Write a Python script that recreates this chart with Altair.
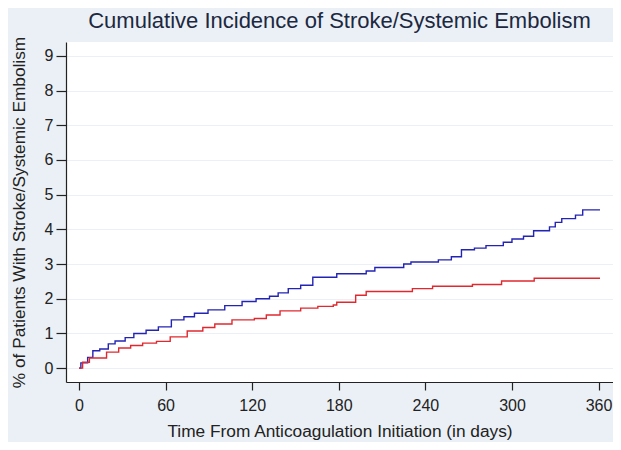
import altair as alt
import pandas as pd

# Step-curve (days, cumulative %)
blue_days = [0, 1.3, 6, 9.6, 14.4, 20.3, 25, 32, 38, 46.5, 55, 64, 72.7, 80, 89.4, 101, 113,
             122.7, 132, 138, 145, 153.6, 162, 178.6, 199, 205, 225, 230, 249, 258, 265, 274,
             282, 294, 300, 308, 315, 326, 330, 334.5, 344, 349, 361]
blue_vals = [0, 0.15, 0.31, 0.5, 0.55, 0.7, 0.78, 0.88, 1.0, 1.09, 1.19, 1.39, 1.48, 1.58, 1.68,
             1.8, 1.92, 2.0, 2.07, 2.17, 2.29, 2.39, 2.62, 2.72, 2.8, 2.9, 3.0, 3.06, 3.12, 3.21,
             3.41, 3.46, 3.53, 3.63, 3.72, 3.8, 3.96, 4.07, 4.2, 4.31, 4.41, 4.56, 4.56]

red_days = [0, 2.5, 7.2, 19.1, 27.5, 35.8, 44.1, 53.7, 63.2, 75, 85.8, 94.1, 106, 121.5, 129.8,
            139.3, 153.6, 165.5, 176.2, 178.6, 191.7, 199, 231, 245, 272.6, 292.8, 315.4, 361]
red_vals = [0, 0.17, 0.29, 0.46, 0.58, 0.65, 0.72, 0.77, 0.9, 1.07, 1.17, 1.27, 1.39, 1.43, 1.53,
            1.65, 1.73, 1.78, 1.82, 1.9, 2.1, 2.21, 2.29, 2.36, 2.41, 2.51, 2.59, 2.59]

series_names = ["Blue group", "Red group"]
series_colors = ["#2424B4", "#E0282E"]

x_ticks = [0, 60, 120, 180, 240, 300, 360]
y_ticks = [0, 1, 2, 3, 4, 5, 6, 7, 8, 9]

title_text = "Cumulative Incidence of Stroke/Systemic Embolism"
x_title = "Time From Anticoagulation Initiation (in days)"
y_title = "% of Patients With Stroke/Systemic Embolism"

df = pd.concat([
    pd.DataFrame({"day": blue_days, "pct": blue_vals, "series": series_names[0]}),
    pd.DataFrame({"day": red_days, "pct": red_vals, "series": series_names[1]}),
])

FONT = "Liberation Sans"
BG = "#EAF0F5"

chart = alt.Chart(df).mark_line(interpolate="step-after", strokeWidth=1.4).encode(
    x=alt.X("day:Q",
            scale=alt.Scale(domain=[-9, 370], nice=False, zero=False),
            axis=alt.Axis(values=x_ticks, title=x_title, grid=False,
                          tickSize=8, labelPadding=7, titlePadding=9)),
    y=alt.Y("pct:Q",
            scale=alt.Scale(domain=[-0.4, 9.4], nice=False, zero=False),
            axis=alt.Axis(values=y_ticks, title=y_title, grid=True,
                          tickSize=10, labelPadding=3, titlePadding=16)),
    color=alt.Color("series:N",
                    scale=alt.Scale(domain=series_names, range=series_colors),
                    legend=None),
    detail="series:N",
).properties(
    width=547,
    height=340,
    title=alt.TitleParams(title_text, anchor="middle", frame="group", fontSize=22,
                          font=FONT, fontWeight="normal", color="#1C2840", offset=3),
    background=BG,
    padding={"left": 58, "top": 34, "right": 0, "bottom": 60},
    autosize=alt.AutoSizeParams(type="none"),
).configure_view(
    fill="white", stroke=None
).configure_axis(
    labelFont=FONT, titleFont=FONT, labelFontSize=16, titleFontSize=17.3,
    labelColor="#222222", titleColor="#222222", titleFontWeight="normal",
    domainColor="#222222", tickColor="#222222", domainWidth=1.2, tickWidth=1.2,
    gridColor=BG, gridWidth=1.2,
)

chart.save("out.html", embed_options={"renderer": "svg", "actions": False})
